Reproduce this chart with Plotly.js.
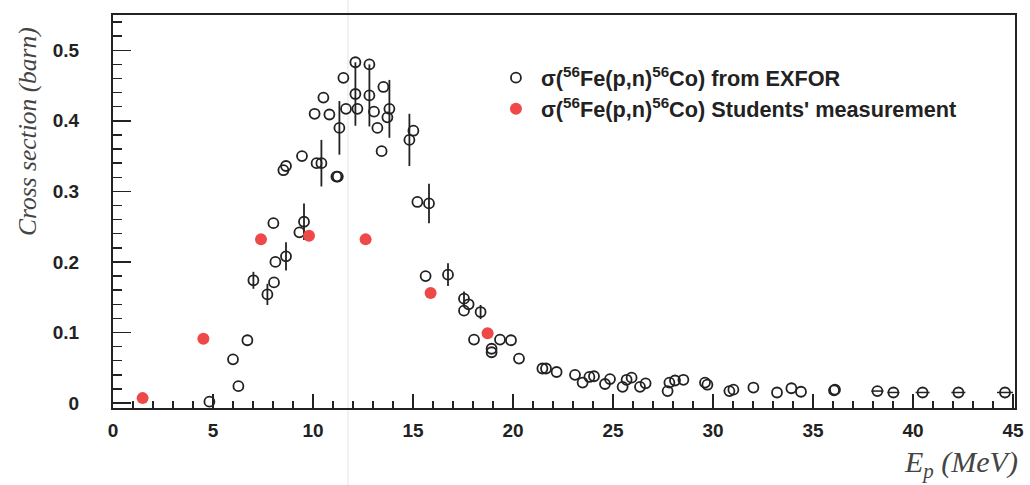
<!DOCTYPE html>
<html>
<head>
<meta charset="utf-8">
<script src="https://cdn.plot.ly/plotly-3.0.1.min.js"></script>
<style>html,body{margin:0;padding:0;background:#fff;}#chart{width:1030px;height:485px;}</style>
</head>
<body>
<div id="chart"></div>
<script>
// EXFOR data: energy (MeV), cross section (barn), vertical error, horizontal error
const exforE = [4.82, 6.0, 6.27, 6.72, 7.02, 7.72, 8.05, 8.12, 8.02, 8.65, 9.32, 9.55, 8.52, 8.65, 9.45, 10.18, 10.42, 11.17, 11.24,
  10.08, 10.52, 10.82, 11.32, 11.65, 11.52, 12.12, 12.12, 12.22, 12.82, 12.82, 13.05, 13.22, 13.52, 13.82, 13.72, 13.43,
  14.82, 15.02, 15.22, 15.8, 15.63, 16.75, 17.55, 17.78, 17.55, 18.38, 18.05, 19.35, 19.9, 18.93, 18.93, 20.3,
  21.47, 21.65, 22.18, 23.1, 23.48, 23.82, 24.05, 24.6, 24.85, 25.48, 25.68, 25.93, 26.35, 26.63, 27.73, 27.82,
  28.1, 28.52, 29.6, 29.72, 30.82, 31.02, 32.02, 33.2, 33.92, 34.4, 36.05, 36.1, 38.22, 39.02, 40.48, 42.27, 44.6];
const exforSigma = [0.002, 0.062, 0.024, 0.089, 0.174, 0.154, 0.171, 0.200, 0.255, 0.208, 0.242, 0.257, 0.330, 0.336, 0.350, 0.340, 0.340, 0.321, 0.321,
  0.410, 0.433, 0.409, 0.390, 0.417, 0.461, 0.483, 0.438, 0.417, 0.480, 0.436, 0.413, 0.390, 0.448, 0.417, 0.405, 0.357,
  0.373, 0.386, 0.285, 0.283, 0.180, 0.182, 0.148, 0.140, 0.131, 0.129, 0.090, 0.090, 0.089, 0.077, 0.072, 0.063,
  0.049, 0.049, 0.044, 0.040, 0.029, 0.037, 0.038, 0.027, 0.034, 0.023, 0.033, 0.036, 0.023, 0.028, 0.017, 0.029,
  0.032, 0.033, 0.029, 0.026, 0.017, 0.019, 0.022, 0.015, 0.021, 0.016, 0.018, 0.019, 0.017, 0.015, 0.015, 0.015, 0.015];
const exforErr = [0, 0, 0, 0, 0.012, 0.015, 0, 0, 0, 0.02, 0, 0.026, 0, 0, 0, 0, 0.033, 0, 0,
  0, 0, 0, 0.038, 0, 0, 0, 0.045, 0, 0, 0.044, 0, 0, 0, 0.041, 0, 0,
  0.037, 0, 0, 0.028, 0, 0.016, 0.01, 0, 0, 0.01, 0, 0, 0, 0, 0, 0,
  0, 0, 0, 0, 0, 0, 0, 0, 0, 0, 0, 0, 0, 0, 0, 0,
  0, 0, 0, 0, 0, 0, 0, 0, 0, 0, 0, 0, 0, 0, 0, 0, 0];
const exforErrE = [0, 0, 0, 0, 0, 0, 0, 0, 0, 0, 0, 0, 0, 0, 0, 0, 0, 0, 0,
  0, 0, 0, 0, 0, 0, 0, 0, 0, 0, 0, 0, 0, 0, 0, 0, 0,
  0, 0, 0, 0, 0, 0, 0, 0, 0, 0, 0, 0, 0, 0, 0, 0,
  0, 0, 0, 0, 0, 0, 0, 0, 0, 0, 0, 0, 0, 0, 0, 0,
  0, 0, 0, 0, 0, 0, 0, 0, 0, 0, 0, 0, 0.3, 0.3, 0.35, 0.35, 0.4, 0.4, 0.4];

// Students' measurement
const studentE = [1.48, 4.52, 7.4, 9.8, 12.63, 15.88, 18.73];
const studentSigma = [0.007, 0.091, 0.232, 0.237, 0.232, 0.156, 0.099];

const legendNames = [
  'σ(<sup>56</sup>Fe(p,n)<sup>56</sup>Co) from EXFOR',
  'σ(<sup>56</sup>Fe(p,n)<sup>56</sup>Co) Students\' measurement'
];

const ink = '#222222';

const traces = [
  {
    x: exforE, y: exforSigma, type: 'scatter', mode: 'markers', name: legendNames[0],
    marker: {symbol: 'circle-open', size: 10, color: ink, line: {width: 1.8, color: ink}},
    error_y: {type: 'data', array: exforErr, visible: true, color: ink, thickness: 1.8, width: 0},
    error_x: {type: 'data', array: exforErrE, visible: true, color: ink, thickness: 1.5, width: 0},
    cliponaxis: false
  },
  {
    x: studentE, y: studentSigma, type: 'scatter', mode: 'markers', name: legendNames[1],
    marker: {symbol: 'circle', size: 12, color: '#ee4848', line: {width: 0}},
    cliponaxis: false
  }
];

const tickFont = {family: 'Liberation Sans, Arial, sans-serif', size: 19, color: ink, weight: 'bold'};
const titleFontY = {family: 'Liberation Serif, Times New Roman, serif', size: 25.5, color: '#444', style: 'italic'};
const titleFontX = {family: 'Liberation Serif, Times New Roman, serif', size: 30, color: '#444', style: 'italic'};

const layout = {
  width: 1030, height: 485,
  margin: {l: 113, r: 15, t: 15, b: 77},
  paper_bgcolor: '#ffffff', plot_bgcolor: '#ffffff',
  showlegend: true,
  legend: {
    x: 0.419, y: 0.893, xanchor: 'left', yanchor: 'top',
    bgcolor: 'rgba(0,0,0,0)', borderwidth: 0,
    font: {family: 'Liberation Sans, Arial, sans-serif', size: 21.7, color: ink, weight: 'bold'},
    itemwidth: 40, tracegroupgap: 0
  },
  xaxis: {
    range: [0, 45.1], showgrid: false, zeroline: false,
    showline: true, linecolor: ink, linewidth: 2, mirror: true,
    ticks: 'inside', ticklen: 14, tickwidth: 1.5, tickcolor: ink,
    tick0: 0, dtick: 5, tickfont: tickFont, ticklabelstandoff: 4,
    minor: {ticks: 'inside', ticklen: 7, tickwidth: 1.5, tickcolor: ink, dtick: 1, showgrid: false}
  },
  yaxis: {
    range: [-0.007, 0.55], showgrid: false, zeroline: false,
    showline: true, linecolor: ink, linewidth: 2, mirror: true,
    ticks: 'inside', ticklen: 18, tickwidth: 1.5, tickcolor: ink,
    tick0: 0, dtick: 0.1, tickfont: tickFont, ticklabelstandoff: 28,
    minor: {ticks: 'inside', ticklen: 9, tickwidth: 1.5, tickcolor: ink, dtick: 0.02, showgrid: false}
  },
  annotations: [
    {text: '<i>Cross section (barn)</i>', xref: 'paper', yref: 'paper', x: -0.094, y: 0.703,
     xanchor: 'center', yanchor: 'middle', textangle: -90, showarrow: false, font: titleFontY},
    {text: '<i>E<sub>p</sub> (MeV)</i>', xref: 'paper', yref: 'paper', x: 1.005, y: -0.142,
     xanchor: 'right', yanchor: 'middle', showarrow: false, font: titleFontX}
  ],
  shapes: [
    {type: 'line', xref: 'paper', yref: 'paper', x0: 0.2605, x1: 0.2605, y0: -0.196, y1: 1.04,
     line: {color: '#e4e4e4', width: 1}, layer: 'below'}
  ]
};

Plotly.newPlot('chart', traces, layout, {displayModeBar: false, staticPlot: true});
</script>
</body>
</html>
